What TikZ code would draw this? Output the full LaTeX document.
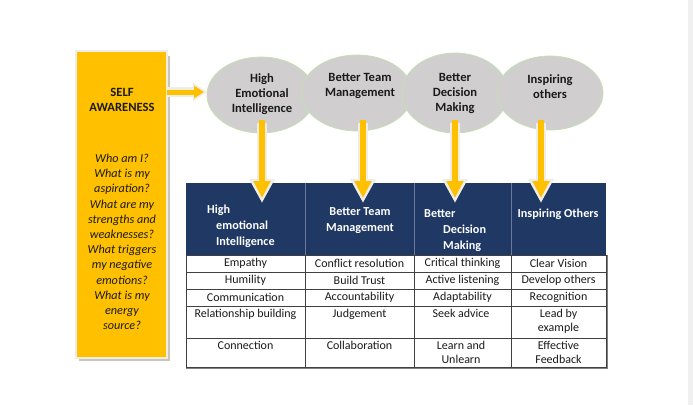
\documentclass[tikz,border=0pt]{standalone}
\usepackage{fontspec}
\setmainfont{Carlito}
\usetikzlibrary{arrows.meta,shapes.geometric}
\definecolor{ygold}{HTML}{FFC000}
\definecolor{navy}{HTML}{1F3864}
\definecolor{navyline}{HTML}{6A7A98}
\definecolor{egray}{HTML}{D0CECE}
\definecolor{egreen}{HTML}{C5E0B4}
\definecolor{aout}{HTML}{EFEDE4}
\definecolor{ashadow}{HTML}{C9C6B8}
\definecolor{gridc}{HTML}{404040}
\definecolor{sidegray}{HTML}{F0F0F0}
\definecolor{txt}{HTML}{1A1A1A}
\begin{document}
\begin{tikzpicture}[x=1pt,y=-1pt,
  ell/.style={ellipse, fill=egray, draw=egreen, line width=0.8pt, inner sep=0pt},
  etext/.style={font=\bfseries\fontsize{12.6}{15}\selectfont, align=center, text=txt, inner sep=0pt},
  htext/.style={font=\bfseries\fontsize{12.2}{16}\selectfont, text=white, inner sep=0pt},
  btext/.style={font=\fontsize{12}{13.5}\selectfont, align=center, text=txt, inner sep=0pt},
  boxtitle/.style={font=\bfseries\fontsize{12.6}{15}\selectfont, align=center, text=txt, inner sep=0pt},
  boxq/.style={font=\itshape\fontsize{12.2}{15.2}\selectfont, align=center, text=txt, inner sep=0pt},
  outerarrow/.style={line width=10pt, draw=aout, -{Triangle[width=24pt,length=24pt]}},
  innerarrow/.style={line width=5.5pt, draw=ygold, -{Triangle[width=16pt,length=17pt]}},
  outerharrow/.style={line width=10pt, draw=aout, -{Triangle[width=18pt,length=14pt]}},
  innerharrow/.style={line width=5pt, draw=ygold, -{Triangle[width=12pt,length=10pt]}}
]
\useasboundingbox (0,0) rectangle (693,405);
\fill[white] (0,0) rectangle (693,405);
\fill[sidegray] (688,0) rectangle (693,405);

% self-awareness box
\fill[ashadow] (79,56) rectangle (170,361);
\fill[aout] (75,50) rectangle (168,359);
\node[fill=ygold, minimum width=89pt, minimum height=305pt, inner sep=0pt, anchor=north west] (sa) at (77,52) {};
\node[boxtitle] (satitle) at (122,99.5) {SELF\\AWARENESS};
\node[boxq] (saq) at (122,242) {Who am I?\\What is my\\aspiration?\\What are my\\strengths and\\weaknesses?\\What triggers\\my negative\\emotions?\\What is my\\energy\\source?};

% ellipses
\node[ell, minimum width=108pt, minimum height=76pt] (e1) at (261,95) {};
\node[ell, minimum width=111pt, minimum height=76pt] (e2) at (357,93) {};
\node[ell, minimum width=106pt, minimum height=80pt] (e3) at (455,93) {};
\node[ell, minimum width=106pt, minimum height=74pt] (e4) at (550,93) {};
\node[etext] (t1) at (262,94) {High\\Emotional\\Intelligence};
\node[etext] (t2) at (360,86) {Better Team\\Management};
\node[etext] (t3) at (455,93) {Better\\Decision\\Making};
\node[etext] (t4) at (550,87) {Inspiring\\others};

% horizontal arrow
\coordinate (ha) at (167,92);
\coordinate (hb) at (207,92);
\coordinate (hb2) at (204,92);
\draw[outerharrow] (ha) -- (hb);
\draw[innerharrow] (ha) -- (hb2);

% table header
\fill[navy] (186,183) rectangle (606,255);
\foreach \x in {305,414,511} \draw[navyline, line width=0.6pt] (\x,183) -- (\x,255);

% coordinates for arrows
\coordinate (a1s) at (262,123); \coordinate (a1e) at (262,203); \coordinate (a1i) at (262,198);
\coordinate (a2s) at (363,123); \coordinate (a2e) at (363,203); \coordinate (a2i) at (363,198);
\coordinate (a3s) at (455,123); \coordinate (a3e) at (455,203); \coordinate (a3i) at (455,198);
\coordinate (a4s) at (541,123); \coordinate (a4e) at (541,203); \coordinate (a4i) at (541,198);
\foreach \n in {1,2,3,4} {
  \draw[outerarrow] (a\n s) -- (a\n e);
  \draw[innerarrow] ([yshift=3pt]a\n s) -- (a\n i);
}

% header texts
\node[htext, align=left, anchor=north west] (h1) at (207,205) {High\\\hspace{9pt}emotional\\\hspace{9pt}Intelligence};
\node[htext, align=center] (h2) at (360,221) {Better Team\\Management};
\node[htext, align=left, anchor=north west] (h3) at (424,209) {Better\\\hspace{19pt}Decision\\\hspace{19pt}Making};
\node[htext] (h4) at (558,214) {Inspiring Others};

% table body grid
\draw[gridc, line width=0.6pt] (186,255) rectangle (606,367);
\foreach \y in {272,289,306,338} \draw[gridc, line width=0.6pt] (186,\y) -- (606,\y);
\foreach \x in {305,414,511} \draw[gridc, line width=0.6pt] (\x,255) -- (\x,367);
\draw[gray, line width=0.6pt] (607.5,255) -- (607.5,368) -- (186,368);

% body texts
\node[btext] (c11) at (245.5,263.5) {Empathy};
\node[btext] (c12) at (245.5,280.5) {Humility};
\node[btext] (c13) at (245.5,297.5) {Communication};
\node[btext, anchor=north] (c14) at (245.5,309) {Relationship building};
\node[btext, anchor=north] (c15) at (245.5,341) {Connection};
\node[btext] (c21) at (359.5,263.5) {Conflict resolution};
\node[btext] (c22) at (359.5,280.5) {Build Trust};
\node[btext] (c23) at (359.5,297.5) {Accountability};
\node[btext, anchor=north] (c24) at (359.5,309) {Judgement};
\node[btext, anchor=north] (c25) at (359.5,341) {Collaboration};
\node[btext] (c31) at (462.5,263.5) {Critical thinking};
\node[btext] (c32) at (462.5,280.5) {Active listening};
\node[btext] (c33) at (462.5,297.5) {Adaptability};
\node[btext, anchor=north] (c34) at (461,309) {Seek advice};
\node[btext, anchor=north] (c35) at (461,341) {Learn and\\Unlearn};
\node[btext] (c41) at (558.5,263.5) {Clear Vision};
\node[btext] (c42) at (558.5,280.5) {Develop others};
\node[btext] (c43) at (558.5,297.5) {Recognition};
\node[btext, anchor=north] (c44) at (558.5,309) {Lead by\\example};
\node[btext, anchor=north] (c45) at (558.5,341) {Effective\\Feedback};
\end{tikzpicture}
\end{document}
